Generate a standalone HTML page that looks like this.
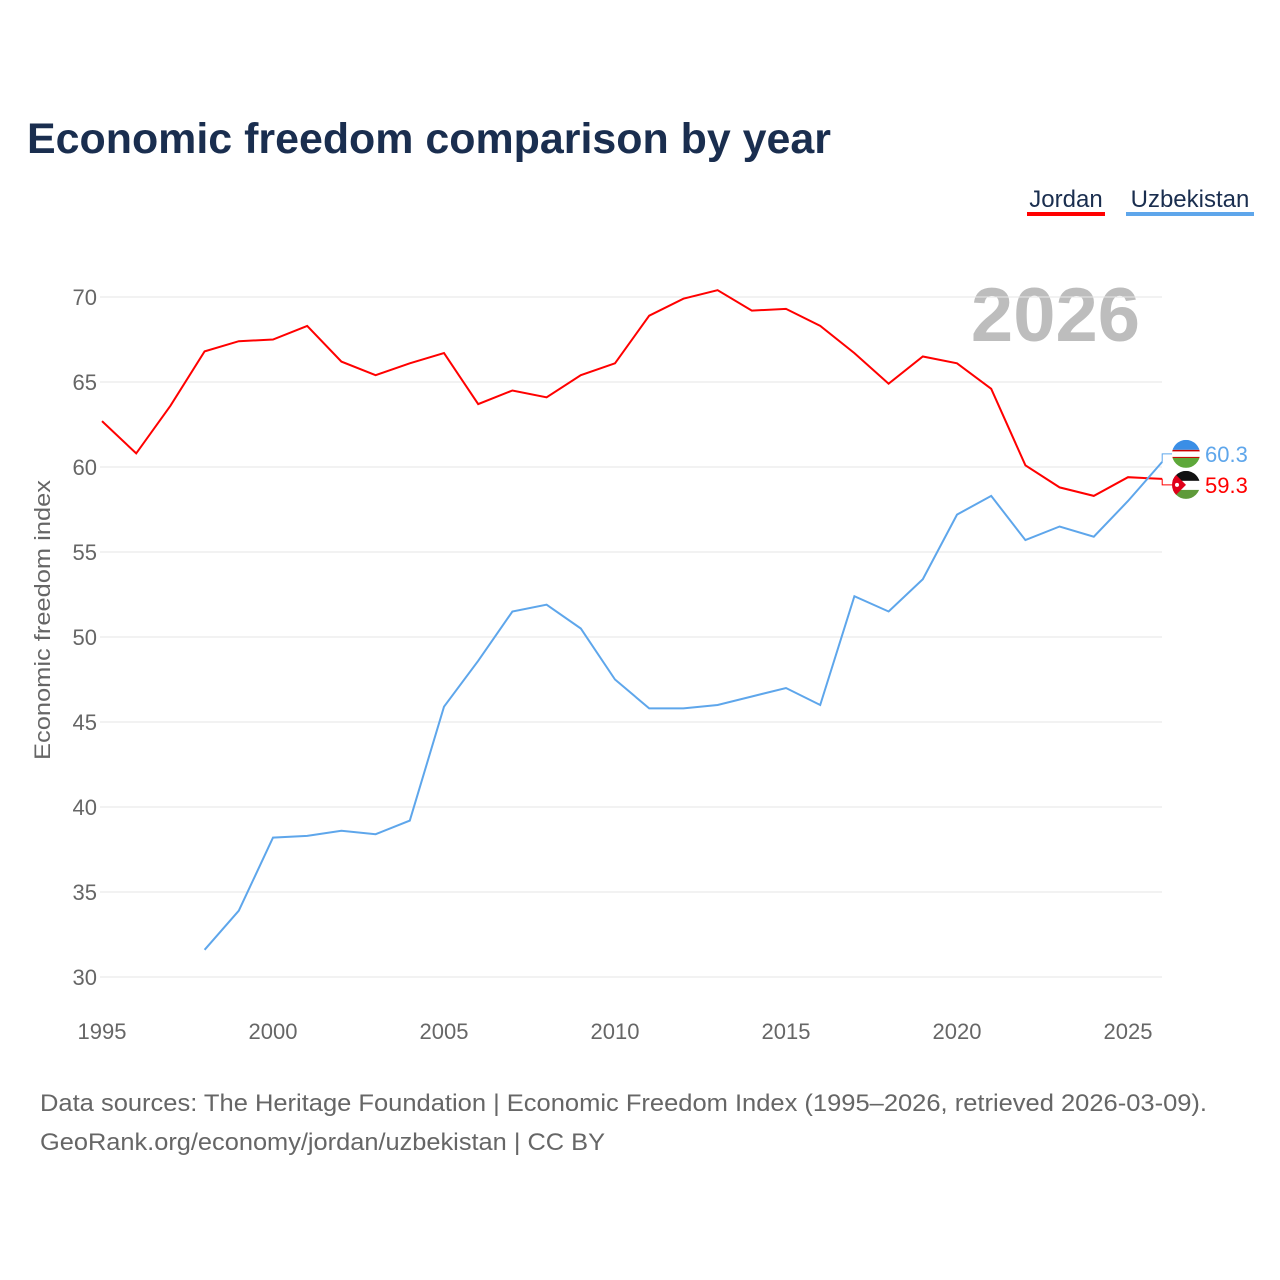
<!DOCTYPE html>
<html><head><meta charset="utf-8"><style>
body{margin:0;background:#fff;font-family:"Liberation Sans",sans-serif;}
#wrap{position:relative;width:1280px;height:1280px;overflow:hidden;}
</style></head><body>
<div id="wrap">
<svg id="chart" width="1280" height="1280">
<text x="27" y="153" font-size="43" font-weight="bold" fill="#1a2e4f" textLength="804" lengthAdjust="spacingAndGlyphs">Economic freedom comparison by year</text>
<g><text x="1066" y="207" font-size="24" fill="#1a2e4f" text-anchor="middle">Jordan</text><rect x="1027" y="212" width="78" height="4" fill="#ff0000"/></g>
<g><text x="1190" y="207" font-size="24" fill="#1a2e4f" text-anchor="middle">Uzbekistan</text><rect x="1126" y="212" width="128" height="4" fill="#5ea6eb"/></g>
<text x="1140" y="341" font-size="76" font-weight="bold" fill="#bdbdbd" text-anchor="end">2026</text>
<text transform="translate(50,620) rotate(-90)" font-size="22" fill="#666" text-anchor="middle" textLength="280" lengthAdjust="spacingAndGlyphs">Economic freedom index</text>
<g id="grid"></g><g id="xt"></g><g id="lines"></g><g id="labels"></g>
<text x="40" y="1111" font-size="24" fill="#666" textLength="1167" lengthAdjust="spacingAndGlyphs">Data sources: The Heritage Foundation | Economic Freedom Index (1995–2026, retrieved 2026-03-09).</text>
<text x="40" y="1150" font-size="24" fill="#666" textLength="565" lengthAdjust="spacingAndGlyphs">GeoRank.org/economy/jordan/uzbekistan | CC BY</text>
</svg>
</div>
<script>
const years=[1995,1996,1997,1998,1999,2000,2001,2002,2003,2004,2005,2006,2007,2008,2009,2010,2011,2012,2013,2014,2015,2016,2017,2018,2019,2020,2021,2022,2023,2024,2025,2026];
const jordan=[62.7,60.8,63.6,66.8,67.4,67.5,68.3,66.2,65.4,66.1,66.7,63.7,64.5,64.1,65.4,66.1,68.9,69.9,70.4,69.2,69.3,68.3,66.7,64.9,66.5,66.1,64.6,60.1,58.8,58.3,59.4,59.3];
const uzbekistan=[null,null,null,31.6,33.9,38.2,38.3,38.6,38.4,39.2,45.9,48.6,51.5,51.9,50.5,47.5,45.8,45.8,46.0,46.5,47.0,46.0,52.4,51.5,53.4,57.2,58.3,55.7,56.5,55.9,58.0,60.3];
const yTicks=[30,35,40,45,50,55,60,65,70];
const xTicks=[1995,2000,2005,2010,2015,2020,2025];
const NS="http://www.w3.org/2000/svg";
const X=v=>102+(v-1995)*34.2, Y=v=>297+(70-v)*17;
function mk(t,a,p){const e=document.createElementNS(NS,t);for(const k in a)e.setAttribute(k,a[k]);document.getElementById(p).appendChild(e);return e;}
yTicks.forEach(v=>{
 const l=mk('line',{x1:100,x2:1162,y1:Y(v),y2:Y(v),stroke:'#e6e6e6','stroke-width':1},'grid');
 
 
 const t=mk('text',{x:97,y:Y(v)+8,'font-size':22,fill:'#666','text-anchor':'end'},'grid');t.textContent=v;
 
 
});
xTicks.forEach(v=>{
 const t=mk('text',{x:X(v),y:1039,'font-size':22,fill:'#666','text-anchor':'middle'},'xt');t.textContent=v;
 
 
});
function line(data,col,name){
 let d='';data.forEach((v,i)=>{if(v==null)return;d+=(d?'L':'M')+X(years[i]).toFixed(1)+','+Y(v).toFixed(1);});
 const p=mk('path',{d:d,fill:'none',stroke:col,'stroke-width':2},'lines');
 
 
}
line(jordan,'#ff0000','jordan-line');
line(uzbekistan,'#5ea6eb','uzbekistan-line');
const lastX=X(2026);
const uv=uzbekistan[uzbekistan.length-1], jv=jordan[jordan.length-1];
const uy=Y(uv)-8, jy=Y(jv)+6;
mk('path',{d:`M${lastX},${Y(uv)}L${lastX},${uy}L1172,${uy}`,stroke:'#5ea6eb',fill:'none'},'labels');
mk('path',{d:`M${lastX},${Y(jv)}L${lastX},${jy}L1172,${jy}`,stroke:'#ff0000',fill:'none'},'labels');
const fu=mk('g',{},'labels');
fu.innerHTML=`<clipPath id="cu"><circle cx="1186" cy="${uy}" r="14"/></clipPath><g clip-path="url(#cu)"><rect x="1172" y="${uy-14}" width="28" height="10" fill="#3a8ee6"/><rect x="1172" y="${uy-4}" width="28" height="8" fill="#fff"/><rect x="1172" y="${uy-4}" width="28" height="1.5" fill="#c00"/><rect x="1172" y="${uy+3}" width="28" height="1.5" fill="#c00"/><rect x="1172" y="${uy+4}" width="28" height="10" fill="#5ea83a"/></g>`;
const fj=mk('g',{},'labels');
fj.innerHTML=`<clipPath id="cj"><circle cx="1186" cy="${jy}" r="14"/></clipPath><g clip-path="url(#cj)"><rect x="1172" y="${jy-14}" width="28" height="10" fill="#111"/><rect x="1172" y="${jy-4}" width="28" height="9" fill="#fff"/><rect x="1172" y="${jy+5}" width="28" height="10" fill="#5e9a3a"/><path d="M1172,${jy-14}L1186,${jy}L1172,${jy+14}Z" fill="#e0001a"/><circle cx="1177" cy="${jy}" r="2" fill="#fff"/></g>`;
const tu=mk('text',{x:1205,y:uy+8,'font-size':22,fill:'#5ea6eb'},'labels');tu.textContent=uv.toFixed(1);


const tj=mk('text',{x:1205,y:jy+8,'font-size':22,fill:'#ff0000'},'labels');tj.textContent=jv.toFixed(1);


</script>
</body></html>
